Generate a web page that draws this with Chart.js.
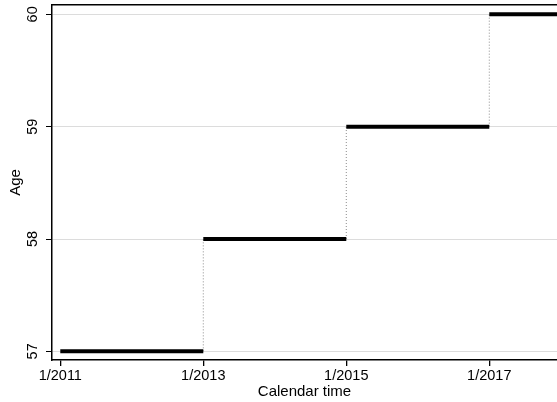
<!DOCTYPE html>
<html>
<head>
<meta charset="utf-8">
<script src="https://cdn.jsdelivr.net/npm/chart.js@4.4.1/dist/chart.umd.min.js"></script>
<style>
  html, body { margin: 0; padding: 0; background: #fff; }
  #wrap { width: 557px; height: 402px; position: relative; }
</style>
</head>
<body>
<div id="wrap"><canvas id="ageChart"></canvas></div>
<script>
// Step data: age held constant between calendar dates
const stepStart = [2011, 2013, 2015, 2017];
const stepEnd = [2013, 2015, 2017, 2018];
const ages = [57, 58, 59, 60];

// Tick values
const xTicks = [2011, 2013, 2015, 2017];
const yTicks = [57, 58, 59, 60];

const FONT = "'Liberation Sans', Arial, Helvetica, sans-serif";

// Horizontal segments (thick black)
const segmentSets = ages.map((age, i) => ({
    data: [{ x: stepStart[i], y: age }, { x: stepEnd[i], y: age }],
    borderColor: "#000",
    borderWidth: 4,
    borderCapStyle: "butt",
    pointRadius: 0,
    order: 0
}));

// Vertical dotted connectors between steps
const jumpSets = ages.slice(1).map((age, i) => ({
    data: [{ x: stepStart[i + 1], y: ages[i] }, { x: stepStart[i + 1], y: age }],
    borderColor: "#8c8c8c",
    borderWidth: 1,
    borderDash: [1, 2],
    pointRadius: 0,
    order: 1
}));

new Chart(document.getElementById("ageChart"), {
    type: "scatter",
    data: { datasets: [...segmentSets, ...jumpSets] },
    options: {
        responsive: true,
        maintainAspectRatio: false,
        animation: false,
        showLine: true,
        layout: { padding: { top: 5, right: 0, left: 0, bottom: 0 } },
        plugins: {
            legend: { display: false },
            tooltip: { enabled: false }
        },
        scales: {
            x: {
                type: "linear",
                position: "bottom",
                min: 2010.884,
                max: 2017.947,
                afterBuildTicks: (s) => { s.ticks = xTicks.map(v => ({ value: v })); },
                afterFit: (s) => { s.height = 42; s.paddingLeft = 0; s.paddingRight = 0; },
                ticks: {
                    color: "#000",
                    font: { family: FONT, size: 14.5 },
                    padding: 1,
                    maxRotation: 0,
                    callback: (v) => "1/" + v
                },
                grid: {
                    drawOnChartArea: false,
                    tickColor: "#000",
                    tickLength: 6,
                    lineWidth: 1.3
                },
                border: { display: true, color: "#000", width: 1.5 },
                title: {
                    display: true,
                    text: "Calendar time",
                    color: "#000",
                    font: { family: FONT, size: 15 },
                    padding: { top: 0, bottom: 1 }
                }
            },
            xTop: {
                type: "linear",
                position: "top",
                min: 2010.884,
                max: 2017.947,
                afterFit: (s) => { s.height = 0; s.paddingLeft = 0; s.paddingRight = 0; },
                ticks: { display: false },
                grid: { display: false },
                border: { display: true, color: "#000", width: 1.5 }
            },
            y: {
                type: "linear",
                position: "left",
                min: 56.923,
                max: 60.083,
                afterBuildTicks: (s) => { s.ticks = yTicks.map(v => ({ value: v })); },
                afterFit: (s) => { s.width = 52; s.paddingTop = 0; s.paddingBottom = 0; },
                ticks: {
                    color: "#000",
                    font: { family: FONT, size: 14.5 },
                    minRotation: 90,
                    maxRotation: 90,
                    crossAlign: "center",
                    padding: 5
                },
                grid: {
                    color: "#dcdcdc",
                    lineWidth: 1,
                    tickColor: "#000",
                    tickLength: 6
                },
                border: { display: true, color: "#000", width: 1.5 },
                title: {
                    display: true,
                    text: "Age",
                    color: "#000",
                    font: { family: FONT, size: 15 },
                    padding: { top: 7, bottom: 0 }
                }
            }
        }
    }
});
</script>
</body>
</html>
